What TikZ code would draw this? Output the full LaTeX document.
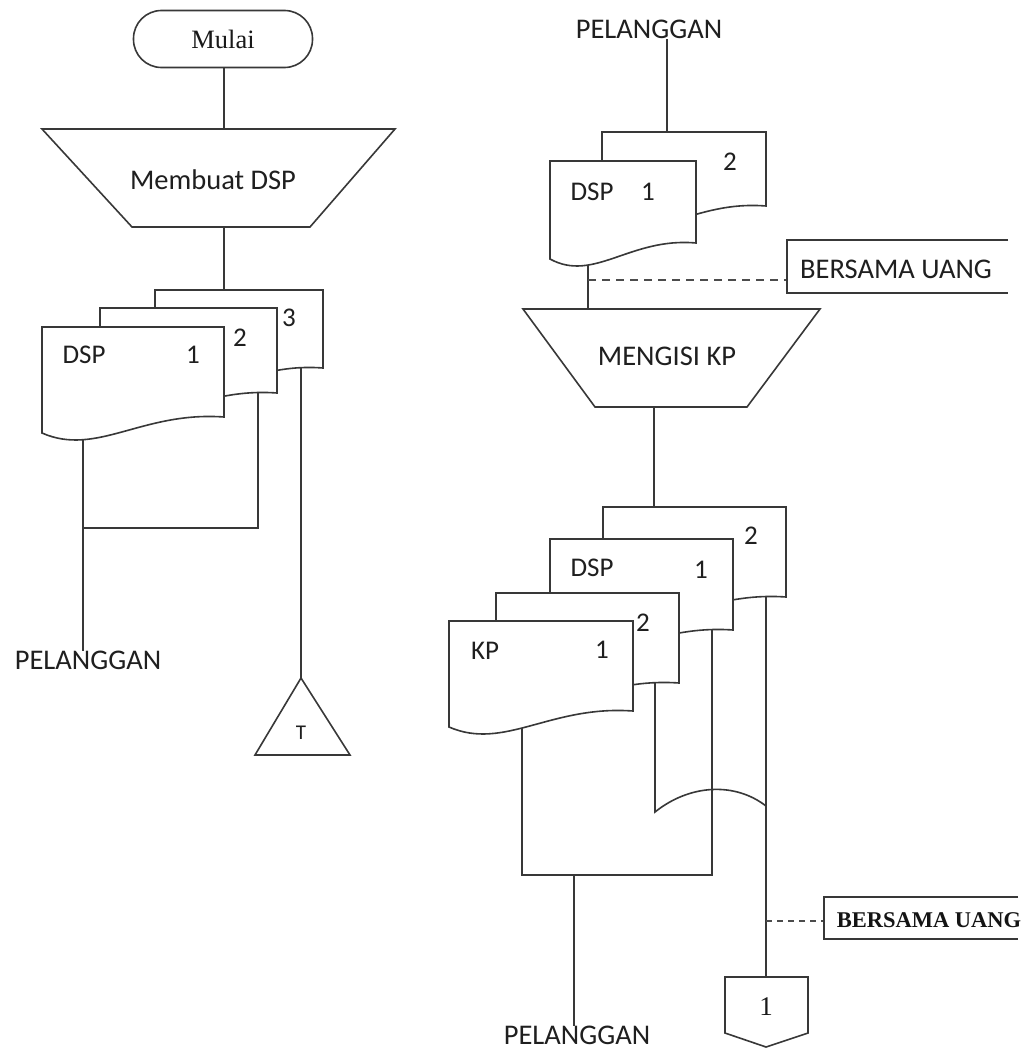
\documentclass[tikz,border=0pt]{standalone}
\usepackage{fontspec}
\setmainfont{Carlito}
\newfontfamily\romanface{Liberation Serif}
\pgfdeclarelayer{paper}
\pgfdeclarelayer{bg}
\pgfsetlayers{paper,bg,main}

\tikzset{
  ln/.style={line width=1.6pt, draw=black!78},
  shapebox/.style={ln, fill=white},
  lbl/.style={inner sep=0pt, text=black!88, font=\fontsize{28.5}{32}\selectfont},
  numlbl/.style={inner sep=0pt, text=black!88, font=\fontsize{27}{30}\selectfont},
  tie/.style={line width=1.3pt, draw=black!70, dash pattern=on 8pt off 6pt},
}

% document symbol: left x, top y, right x, y of the lower right corner
\newcommand\flowdoc[4]{%
  \draw[shapebox] (#1,#2) -- (#3,#2) -- (#3,#4)
    .. controls ({#3-0.45*(#3-#1)},{#4-6}) and ({#1+0.3*(#3-#1)},{#4+40}) ..
    (#1,{#4+16}) -- cycle;}

\begin{document}
\begin{tikzpicture}[x=1pt,y=-1pt]
\begin{pgfonlayer}{paper}
  \fill[white] (0,0) rectangle (1031,1057);
\end{pgfonlayer}
\useasboundingbox (0,0) rectangle (1031,1057);

% ---------------- left column ----------------
\node[shapebox, rounded corners=28pt, minimum width=179pt, minimum height=57pt,
      inner sep=0pt, text=black!90, font=\romanface\fontsize{26.5}{30}\selectfont]
      (start) at (223,39) {Mulai};

\draw[shapebox] (42,129) -- (395,129) -- (310,227) -- (132,227) -- cycle;
\coordinate (mbTop) at (224,129);
\coordinate (mbBot) at (224,227);
\node[lbl] (mb) at (213,180) {Membuat DSP};

\flowdoc{155}{290}{323}{368}
\flowdoc{100}{308}{277}{393}
\flowdoc{42}{327}{224}{417}
\coordinate (lTop) at (224,290);
\coordinate (lA) at (83,430);
\coordinate (lB) at (258,385);
\coordinate (lC) at (301,360);
\node[numlbl] (ldsp) at (84,355) {DSP};
\node[numlbl] (l1) at (193,355) {1};
\node[numlbl] (l2) at (240,338) {2};
\node[numlbl] (l3) at (289,318) {3};

\node[lbl, anchor=north] (custA) at (88,651) {PELANGGAN};

\draw[shapebox] (301,678) -- (350,755) -- (255,755) -- cycle;
\coordinate (archTop) at (301,678);
\node[inner sep=0pt, text=black!88, font=\fontsize{21}{23}\selectfont] (arch) at (301,733) {T};

% ---------------- right column, upper part ----------------
\node[lbl, anchor=north] (custB) at (649,20) {PELANGGAN};

\flowdoc{602}{132}{766}{206}
\flowdoc{550}{161}{696}{243}
\coordinate (rTop) at (667,132);
\coordinate (rA) at (588,250);
\node[numlbl] (rdsp) at (592,192) {DSP};
\node[numlbl] (r1) at (648,192) {1};
\node[numlbl] (r2) at (730,162) {2};

\draw[ln] (1008,240) -- (787,240) -- (787,293) -- (1008,293);
\node[lbl] (noteA) at (896,269) {BERSAMA UANG};
\coordinate (noteAin) at (787,280);

\draw[shapebox] (523,309) -- (820,309) -- (747,407) -- (595,407) -- cycle;
\coordinate (mkTop) at (588,309);
\coordinate (mkBot) at (654,407);
\node[lbl] (mk) at (667,356) {MENGISI KP};

% ---------------- right column, lower part ----------------
\flowdoc{603}{507}{786}{597}
\flowdoc{550}{539}{733}{630}
\flowdoc{496}{593}{679}{683}
\flowdoc{449}{621}{633}{711}
\coordinate (gTop) at (654,507);
\coordinate (kpA) at (522,720);
\coordinate (kpB) at (655,675);
\coordinate (dsA) at (712,620);
\coordinate (dsB) at (766,590);
\node[numlbl] (kp) at (485,651) {KP};
\node[numlbl] (kp1) at (602,650) {1};
\node[numlbl] (kp2) at (643,623) {2};
\node[numlbl] (ds) at (592,568) {DSP};
\node[numlbl] (ds1) at (701,570) {1};
\node[numlbl] (ds2) at (751,536) {2};

\coordinate (join) at (574,875);
\node[lbl, anchor=north] (custC) at (577,1026) {PELANGGAN};

\draw[ln] (1018,897) -- (824,897) -- (824,939) -- (1018,939);
\node[inner sep=0pt, text=black!92, font=\romanface\bfseries\fontsize{22.5}{25}\selectfont]
      (noteB) at (929,920) {BERSAMA UANG};
\coordinate (noteBin) at (824,921);

\draw[shapebox] (725,977) -- (808,977) -- (808,1033) -- (766,1047) -- (725,1033) -- cycle;
\coordinate (offTop) at (766,977);
\node[inner sep=0pt, text=black!90, font=\romanface\fontsize{27}{29}\selectfont] (off) at (766,1007) {1};

% ---------------- flow lines ----------------
\begin{pgfonlayer}{bg}
  \draw[ln] (start.south -| mbTop) -- (mbTop);
  \draw[ln] (mbBot) -- (lTop);
  \draw[ln] (lA) -- (lA |- custA.north);
  \draw[ln] (lB) -- (lB |- 0,528) -- (lA |- 0,528);
  \draw[ln] (lC) -- (archTop);

  \draw[ln] (custB.south -| rTop) -- (rTop);
  \draw[ln] (rA) -- (mkTop);
  \draw[tie] (rA |- noteAin) -- (noteAin);
  \draw[ln] (mkBot) -- (gTop);

  \draw[ln] (kpA) -- (kpA |- join) -- (dsA |- join) -- (dsA);
  \draw[ln] (join) -- (join |- custC.north);
  \draw[ln] (kpB) -- (655,812) .. controls (690,784) and (735,782) .. (766,806);
  \draw[ln] (dsB) -- (offTop);
  \draw[tie, dash pattern=on 6pt off 5pt] (dsB |- noteBin) -- (noteBin);
\end{pgfonlayer}
\end{tikzpicture}
\end{document}
